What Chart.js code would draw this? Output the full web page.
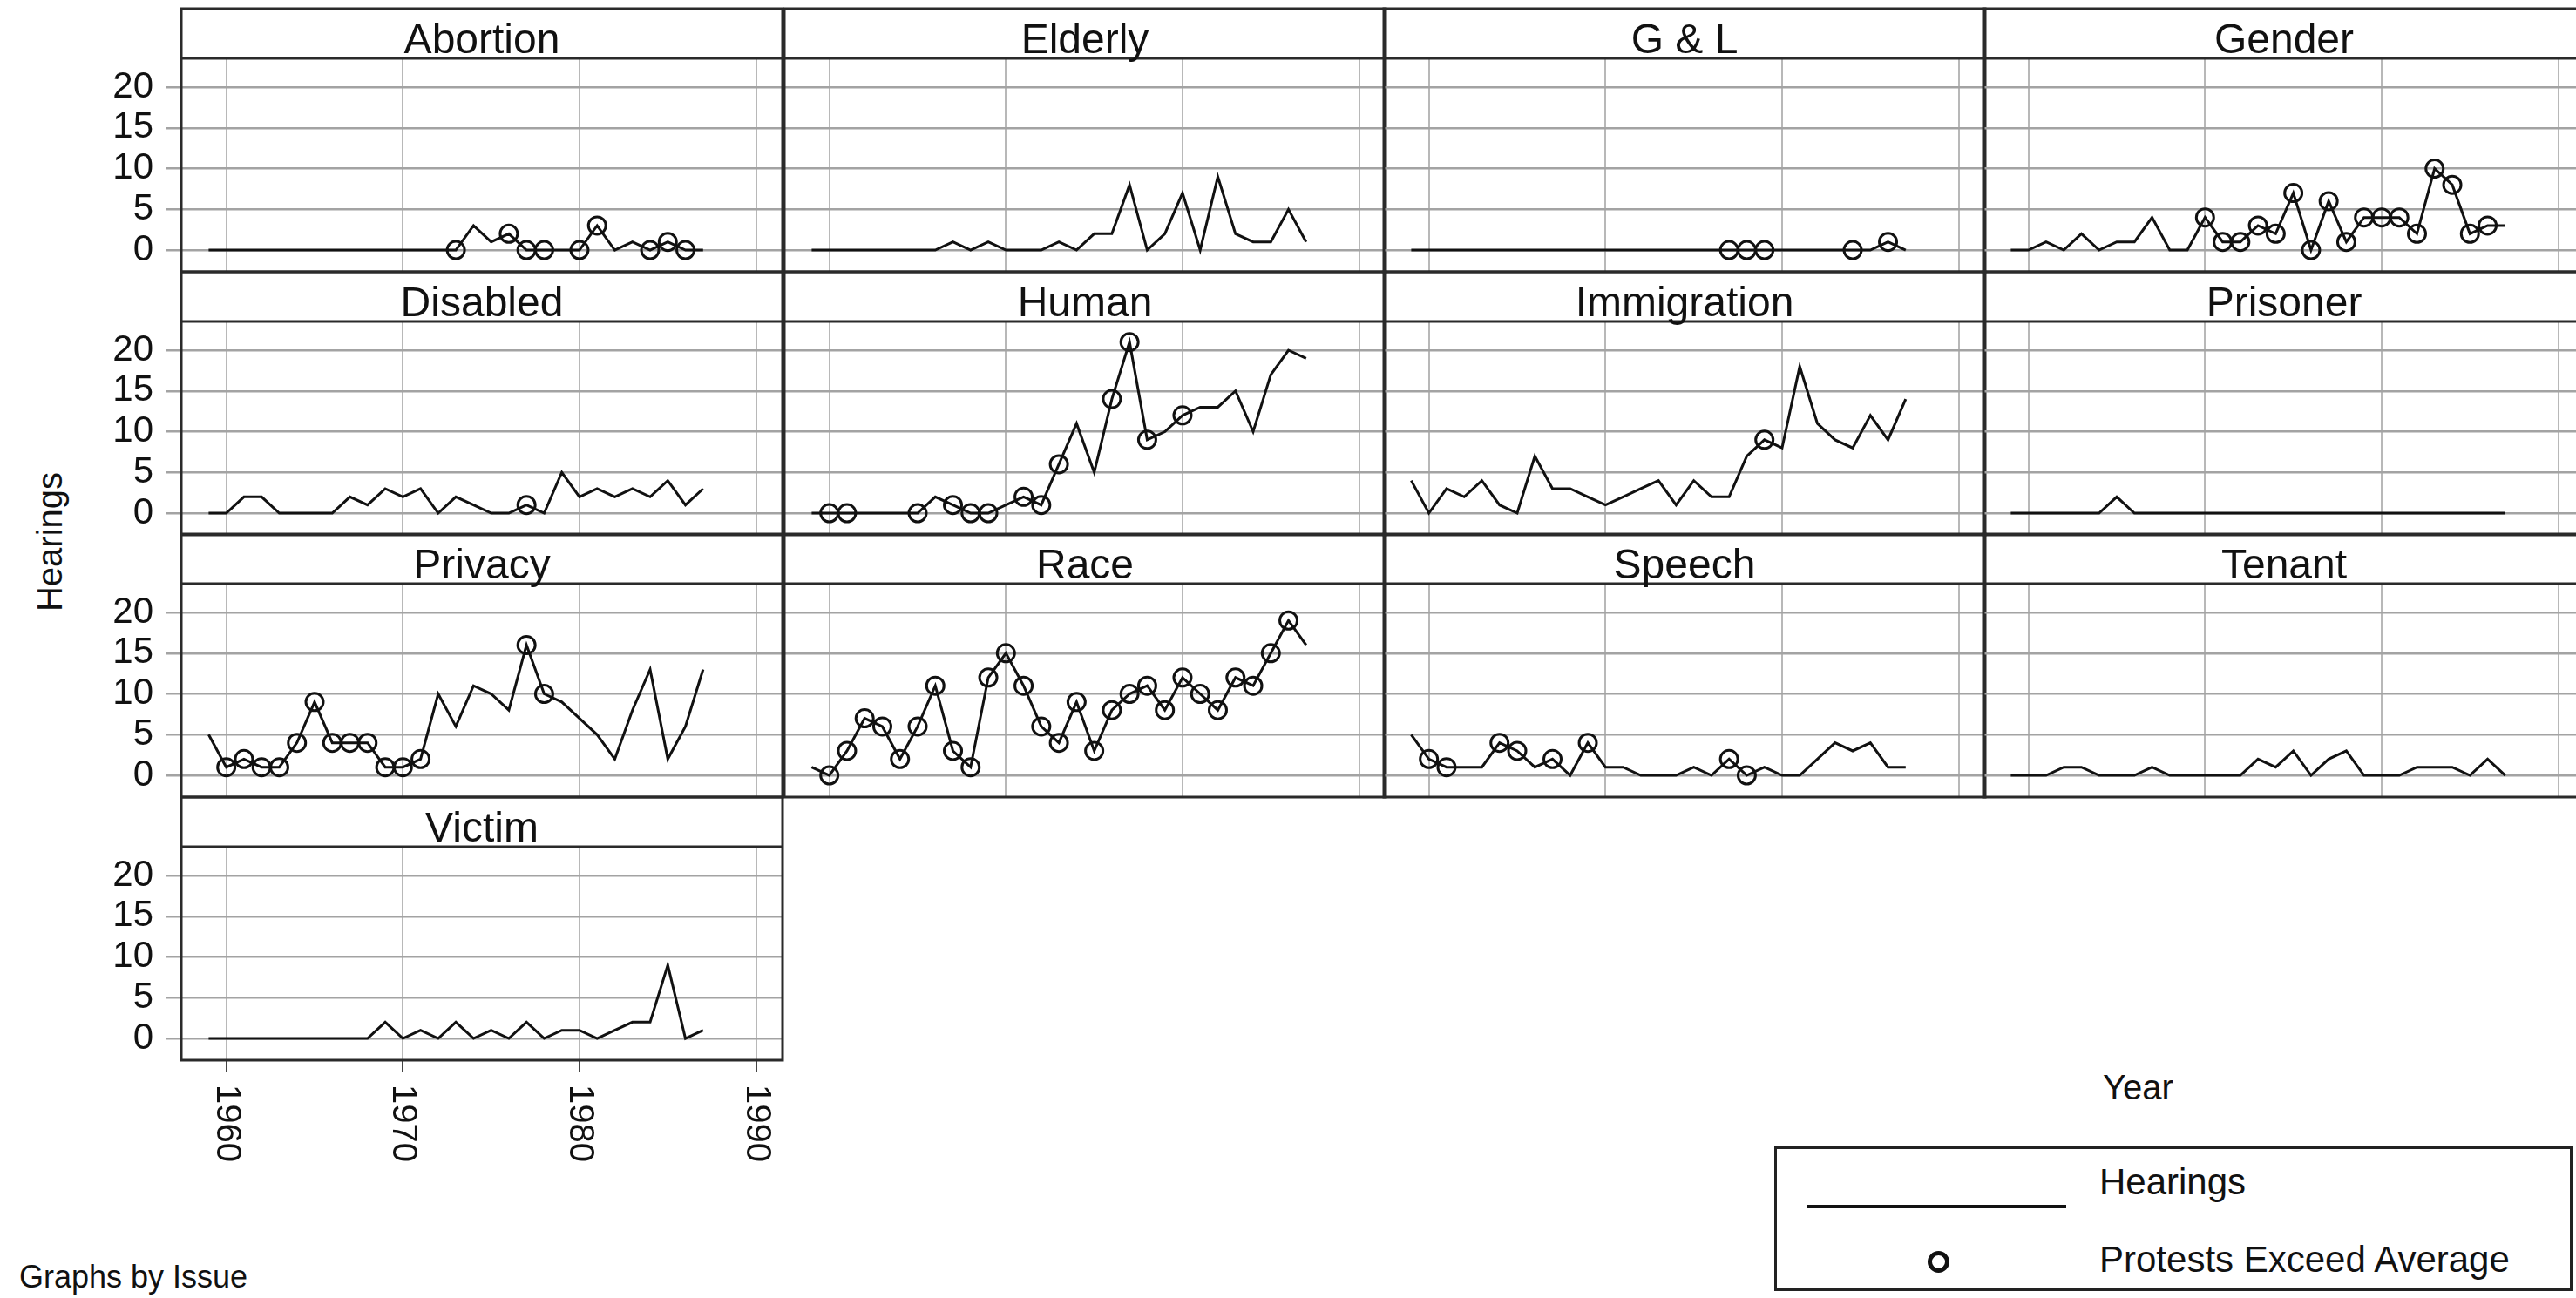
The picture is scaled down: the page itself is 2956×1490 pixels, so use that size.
<!DOCTYPE html>
<html>
<head>
<meta charset="utf-8">
<title>Hearings by Issue</title>
<script src="https://cdn.jsdelivr.net/npm/chart.js@4.4.1/dist/chart.umd.min.js"></script>
<style>
  html, body { margin: 0; padding: 0; background: #fff; }
  body {
    width: 2956px; height: 1490px; position: relative; overflow: hidden;
    font-family: "Liberation Sans", Arial, sans-serif; color: #111;
  }
  canvas { position: absolute; }
  .txt { position: absolute; white-space: nowrap; line-height: 1; transform: translateY(-50%); }
  #ytitle { transform: translate(-50%, -50%) rotate(-90deg); }
  #legend { position: absolute; box-sizing: border-box; border: 3px solid #222; }
  .legLine { position: absolute; background: #111; }
  .legDot { position: absolute; box-sizing: border-box; border: 5px solid #111; border-radius: 50%; }
</style>
</head>
<body>

<div class="txt" id="ytitle" style="left:57px; top:622px; font-size:40px;">Hearings</div>
<div class="txt" style="left:2413px; top:1248px; font-size:40px;">Year</div>
<div class="txt" style="left:22px; top:1466px; font-size:36px;">Graphs by Issue</div>

<div id="legend" style="left:2036px; top:1316px; width:916px; height:166px;"></div>
<div class="legLine" style="left:2073px; top:1383px; width:298px; height:4px;"></div>
<div class="legDot" style="left:2212px; top:1436px; width:25px; height:25px;"></div>
<div class="txt" style="left:2409px; top:1357px; font-size:42px;">Hearings</div>
<div class="txt" style="left:2409px; top:1446px; font-size:42px;">Protests Exceed Average</div>

<script>
/* ── Data ───────────────────────────────────────────────────── */
const years = [1959, 1960, 1961, 1962, 1963, 1964, 1965, 1966, 1967, 1968,
               1969, 1970, 1971, 1972, 1973, 1974, 1975, 1976, 1977, 1978,
               1979, 1980, 1981, 1982, 1983, 1984, 1985, 1986, 1987];

const xTickLabels = [1960, 1970, 1980, 1990];
const yTickLabels = [0, 5, 10, 15, 20];

/* hearings per year, 1959 .. 1987 */
const hearingsAbortion    = [0,0,0,0,0,0,0,0,0,0, 0,0,0,0,0,3,1,2,0,0, 0,0,3,0,1,0,1,0,0];
const hearingsElderly     = [0,0,0,0,0,0,0,0,1,0, 1,0,0,0,1,0,2,2,8,0, 2,7,0,9,2,1,1,5,1];
const hearingsGL          = [0,0,0,0,0,0,0,0,0,0, 0,0,0,0,0,0,0,0,0,0, 0,0,0,0,0,0,0,1,0];
const hearingsGender      = [0,0,1,0,2,0,1,1,4,0, 0,4,1,1,3,2,7,0,6,1, 4,4,4,2,10,8,2,3,3];
const hearingsDisabled    = [0,0,2,2,0,0,0,0,2,1, 3,2,3,0,2,1,0,0,1,0, 5,2,3,2,3,2,4,1,3];
const hearingsHuman       = [0,0,0,0,0,0,0,2,1,0, 0,1,2,1,6,11,5,14,21,9, 10,12,13,13,15,10,17,20,19];
const hearingsImmigration = [4,0,3,2,4,1,0,7,3,3, 2,1,2,3,4,1,4,2,2,7, 9,8,18,11,9,8,12,9,14];
const hearingsPrisoner    = [0,0,0,0,0,0,2,0,0,0, 0,0,0,0,0,0,0,0,0,0, 0,0,0,0,0,0,0,0,0];
const hearingsPrivacy     = [5,1,2,1,1,4,9,4,4,4, 1,1,2,10,6,11,10,8,16,10, 9,7,5,2,8,13,2,6,13];
const hearingsRace        = [1,0,3,7,6,2,6,11,3,1, 12,15,11,6,4,9,3,8,10,11, 8,12,10,8,12,11,15,19,16];
const hearingsSpeech      = [5,2,1,1,1,4,3,1,2,0, 4,1,1,0,0,0,1,0,2,0, 1,0,0,2,4,3,4,1,1];
const hearingsTenant      = [0,0,0,1,1,0,0,0,1,0, 0,0,0,0,2,1,3,0,2,3, 0,0,0,1,1,1,0,2,0];
const hearingsVictim      = [0,0,0,0,0,0,0,0,0,0, 2,0,1,0,2,0,1,0,2,0, 1,1,0,1,2,2,9,0,1];

/* years in which protests exceed the average (circled) */
const protestAbortion    = [1973, 1976, 1977, 1978, 1980, 1981, 1984, 1985, 1986];
const protestElderly     = [];
const protestGL          = [1977, 1978, 1979, 1984, 1986];
const protestGender      = [1970, 1971, 1972, 1973, 1974, 1975, 1976, 1977, 1978,
                            1979, 1980, 1981, 1982, 1983, 1984, 1985, 1986];
const protestDisabled    = [1977];
const protestHuman       = [1960, 1961, 1965, 1967, 1968, 1969, 1971, 1972, 1973,
                            1976, 1977, 1978, 1980];
const protestImmigration = [1979];
const protestPrisoner    = [];
const protestPrivacy     = [1960, 1961, 1962, 1963, 1964, 1965, 1966, 1967, 1968,
                            1969, 1970, 1971, 1977, 1978];
const protestRace        = [1960, 1961, 1962, 1963, 1964, 1965, 1966, 1967, 1968,
                            1969, 1970, 1971, 1972, 1973, 1974, 1975, 1976, 1977,
                            1978, 1979, 1980, 1981, 1982, 1983, 1984, 1985, 1986];
const protestSpeech      = [1960, 1961, 1964, 1965, 1967, 1969, 1977, 1978];
const protestTenant      = [];
const protestVictim      = [];

const panels = [
  { name: "Abortion",    hearings: hearingsAbortion,    protest: protestAbortion },
  { name: "Elderly",     hearings: hearingsElderly,     protest: protestElderly },
  { name: "G & L",       hearings: hearingsGL,          protest: protestGL },
  { name: "Gender",      hearings: hearingsGender,      protest: protestGender },
  { name: "Disabled",    hearings: hearingsDisabled,    protest: protestDisabled },
  { name: "Human",       hearings: hearingsHuman,       protest: protestHuman },
  { name: "Immigration", hearings: hearingsImmigration, protest: protestImmigration },
  { name: "Prisoner",    hearings: hearingsPrisoner,    protest: protestPrisoner },
  { name: "Privacy",     hearings: hearingsPrivacy,     protest: protestPrivacy },
  { name: "Race",        hearings: hearingsRace,        protest: protestRace },
  { name: "Speech",      hearings: hearingsSpeech,      protest: protestSpeech },
  { name: "Tenant",      hearings: hearingsTenant,      protest: protestTenant },
  { name: "Victim",      hearings: hearingsVictim,      protest: protestVictim },
];

/* ── Layout (page pixels) ───────────────────────────────────── */
const COL_LEFT = [208, 900, 1588, 2276];
const ROW_TOP  = [10, 312, 613, 915];
const PANEL_W  = 690;   /* width of one plot */
const PANEL_H  = 302;   /* title strip + plot */
const STRIP_H  = 57;    /* title strip */
const M        = 3;     /* margin so frame lines are not clipped */
const X_MIN = 1957.45, X_MAX = 1991.5;
const Y_MIN = -2.67,   Y_MAX = 23.53;
const FONT = '"Liberation Sans", Arial, sans-serif';

/* Draws the panel frame, title strip and (bottom panel) rotated year labels */
const panelDecor = {
  id: "panelDecor",
  afterDraw(chart, args, opts) {
    const { ctx, chartArea: a } = chart;
    ctx.save();
    ctx.strokeStyle = "#2a2a2a";
    ctx.lineWidth = 3;
    ctx.strokeRect(a.left, a.top - STRIP_H, a.right - a.left, a.bottom - a.top + STRIP_H);
    ctx.beginPath();
    ctx.moveTo(a.left, a.top);
    ctx.lineTo(a.right, a.top);
    ctx.stroke();

    ctx.fillStyle = "#111";
    ctx.font = "48px " + FONT;
    ctx.textAlign = "center";
    ctx.textBaseline = "alphabetic";
    ctx.fillText(opts.title, (a.left + a.right) / 2, a.top - 6);

    if (opts.yearLabels) {
      const xs = chart.scales.x;
      ctx.font = "40px " + FONT;
      ctx.textAlign = "left";
      ctx.textBaseline = "middle";
      xTickLabels.forEach((v) => {
        ctx.save();
        ctx.translate(xs.getPixelForValue(v), a.bottom + 28);
        ctx.rotate(Math.PI / 2);
        ctx.fillText(String(v), 0, 0);
        ctx.restore();
      });
    }
    ctx.restore();
  },
};

/* ── Build one chart per panel ──────────────────────────────── */
panels.forEach((p, i) => {
  const col = i % 4;
  const row = Math.floor(i / 4);
  const firstCol = col === 0;
  const bottom = i === panels.length - 1;
  const padL = firstCol ? COL_LEFT[0] : M;
  const padB = bottom ? 130 : M;

  const canvas = document.createElement("canvas");
  canvas.width = padL + PANEL_W + M;
  canvas.height = M + PANEL_H + padB;
  canvas.style.left = (COL_LEFT[col] - padL) + "px";
  canvas.style.top = (ROW_TOP[row] - M) + "px";
  document.body.appendChild(canvas);

  const lineData = years.map((yr, k) => ({ x: yr, y: p.hearings[k] }));
  const dotData = p.protest.map((yr) => ({ x: yr, y: p.hearings[years.indexOf(yr)] }));

  new Chart(canvas.getContext("2d"), {
    type: "scatter",
    data: {
      datasets: [
        {
          label: "Hearings",
          data: lineData,
          showLine: true,
          borderColor: "#111",
          borderWidth: 3,
          pointRadius: 0,
          tension: 0,
          fill: false,
        },
        {
          label: "Protests Exceed Average",
          data: dotData,
          showLine: false,
          pointStyle: "circle",
          pointRadius: 10,
          pointBorderWidth: 3,
          pointBorderColor: "#111",
          pointBackgroundColor: "rgba(0,0,0,0)",
        },
      ],
    },
    options: {
      responsive: false,
      maintainAspectRatio: false,
      animation: false,
      events: [],
      layout: {
        autoPadding: false,
        padding: { top: M + STRIP_H, right: M, left: 0, bottom: 0 },
      },
      plugins: {
        legend: { display: false },
        tooltip: { enabled: false },
        panelDecor: { title: p.name, yearLabels: bottom },
      },
      scales: {
        x: {
          type: "linear",
          position: "bottom",
          min: X_MIN,
          max: X_MAX,
          afterBuildTicks: (s) => { s.ticks = xTickLabels.map((v) => ({ value: v })); },
          afterFit: (s) => { s.height = padB; s.paddingLeft = 0; s.paddingRight = 0; },
          ticks: { display: false },
          border: { display: false },
          grid: {
            color: "#b8b8b8",
            lineWidth: 2,
            drawTicks: bottom,
            tickLength: 13,
            tickColor: "#444",
          },
        },
        y: {
          type: "linear",
          position: "left",
          min: Y_MIN,
          max: Y_MAX,
          afterBuildTicks: (s) => { s.ticks = yTickLabels.map((v) => ({ value: v })); },
          afterFit: (s) => { s.width = padL; s.paddingTop = 0; s.paddingBottom = 0; },
          border: { display: false },
          ticks: {
            display: firstCol,
            color: "#111",
            font: { family: FONT, size: 42 },
            padding: 14,
          },
          grid: {
            color: "#a3a3a3",
            lineWidth: 2.5,
            drawTicks: firstCol,
            tickLength: 18,
          },
        },
      },
    },
    plugins: [panelDecor],
  });
});
</script>
</body>
</html>
